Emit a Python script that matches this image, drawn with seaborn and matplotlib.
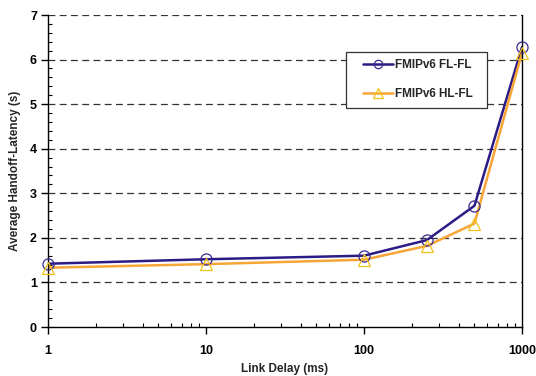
import matplotlib
matplotlib.use("Agg")
import matplotlib.pyplot as plt
import seaborn as sns
import pandas as pd
import numpy as np
from matplotlib.ticker import MultipleLocator, FixedLocator, NullFormatter, LogLocator
from matplotlib.lines import Line2D
from matplotlib.patches import Rectangle

delays = [1, 10, 100, 250, 500, 1000]
fl_fl = [1.42, 1.52, 1.60, 1.95, 2.72, 6.28]
hl_fl = [1.33, 1.41, 1.51, 1.82, 2.32, 6.15]
series_names = ["FMIPv6 FL-FL", "FMIPv6 HL-FL"]
x_ticks = [1, 10, 100, 1000]
x_ticklabels = ["1", "10", "100", "1000"]

df = pd.DataFrame({
    "delay": delays * 2,
    "latency": fl_fl + hl_fl,
    "series": [series_names[0]] * len(delays) + [series_names[1]] * len(delays),
})

sns.set_style("white")
plt.rcParams["font.family"] = ["Liberation Sans", "DejaVu Sans"]
plt.rcParams["font.weight"] = "bold"

W, H = 536, 376
fig = plt.figure(figsize=(W / 100, H / 100), dpi=100)
ax = fig.add_axes([48 / W, 1 - 327 / H, (522 - 48) / W, (327 - 15) / H])

line_colors = {series_names[0]: "#2B1B85", series_names[1]: "#F7A536"}
sns.lineplot(data=df, x="delay", y="latency", hue="series", palette=line_colors,
             ax=ax, linewidth=1.8, legend=False, sort=False)

ax.set_xscale("log")
ax.set_xlim(1, 1000)
ax.set_ylim(0, 7)

# markers
ax.plot(delays, fl_fl, linestyle="none", marker="o", markersize=8,
        markerfacecolor="none", markeredgecolor="#3A2A90", markeredgewidth=0.9, clip_on=False, zorder=5)
ax.plot(delays, hl_fl, linestyle="none", marker="^", markersize=9,
        markerfacecolor="none", markeredgecolor="#F2C21A", markeredgewidth=0.9, clip_on=False, zorder=5)

# grid
for yv in range(1, 8):
    ax.axhline(yv, color="#333333", linestyle=(0, (5.5, 3.5)), linewidth=0.9, zorder=0)

for s in ["left", "bottom", "right"]:
    ax.spines[s].set_color("black")
    ax.spines[s].set_linewidth(1.0)
ax.spines["top"].set_visible(False)

ax.yaxis.set_major_locator(MultipleLocator(1))
ax.yaxis.set_minor_locator(MultipleLocator(0.2))
ax.xaxis.set_major_locator(FixedLocator(x_ticks))
ax.set_xticklabels(x_ticklabels)
ax.xaxis.set_minor_locator(LogLocator(base=10, subs=np.arange(2, 10)))
ax.xaxis.set_minor_formatter(NullFormatter())
ax.tick_params(axis="both", which="major", direction="out", length=5, width=1,
               labelsize=9, colors="black", pad=8, left=True, bottom=True)
ax.tick_params(axis="both", which="minor", direction="in", length=3, width=0.8,
               left=True, bottom=True, colors="black")
ax.tick_params(axis="y", which="major", pad=3)
for lbl in ax.get_xticklabels() + ax.get_yticklabels():
    lbl.set_fontweight("bold")

ax.set_xlabel("Link Delay (ms)", fontsize=8.5, fontweight="bold", labelpad=4)
ax.set_ylabel("Average Handoff-Latency (s)", fontsize=8.5, fontweight="bold", labelpad=6)

# legend box
fig.add_artist(Rectangle((346 / W, 1 - 108 / H), (487 - 346) / W, (108 - 52) / H,
                         transform=fig.transFigure, facecolor="white",
                         edgecolor="#333333", linewidth=0.9, zorder=10))
handles = [
    Line2D([], [], color=line_colors[series_names[0]], linewidth=1.8, marker="o",
           markersize=6, markerfacecolor="none", markeredgecolor="#3A2A90", markeredgewidth=0.9),
    Line2D([], [], color=line_colors[series_names[1]], linewidth=1.8, marker="^",
           markersize=7, markerfacecolor="none", markeredgecolor="#F2C21A", markeredgewidth=0.9),
]
leg = fig.legend(handles, series_names, loc="upper left",
                 bbox_to_anchor=(363 / W, 1 - 59 / H), bbox_transform=fig.transFigure,
                 frameon=False, borderpad=0, borderaxespad=0,
                 handlelength=2.55, labelspacing=1.45, handletextpad=0.2,
                 prop={"weight": "bold", "size": 8.5})
leg.set_zorder(11)

fig.savefig("out.png", dpi=100)
